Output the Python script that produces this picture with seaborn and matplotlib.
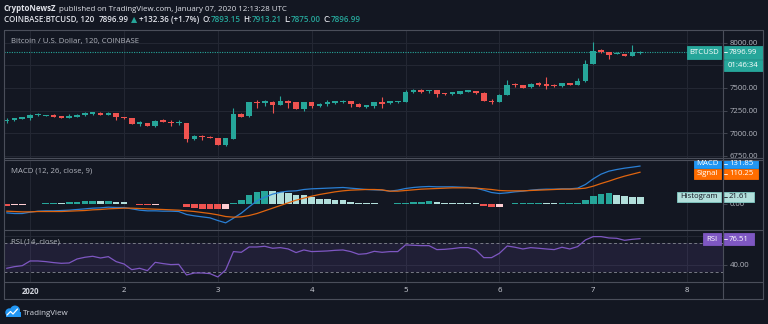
import numpy as np
import pandas as pd
import matplotlib
matplotlib.use("Agg")
import matplotlib.pyplot as plt
import matplotlib.dates as mdates
from matplotlib.patches import Rectangle, Circle
import seaborn as sns

# ---------------- data ----------------
opens = [7132, 7143, 7158, 7165, 7199, 7195, 7202, 7188, 7173, 7180,
         7199, 7210, 7228, 7206, 7224, 7180, 7169, 7099, 7114, 7077,
         7143, 7129, 7114, 7114, 6941, 6974, 6963, 6949, 6871, 6938,
         7210, 7188, 7346, 7331, 7349, 7313, 7357, 7342, 7268, 7342,
         7298, 7324, 7331, 7342, 7357, 7327, 7287, 7305, 7346, 7330,
         7343, 7345, 7455, 7478, 7462, 7474, 7444, 7432, 7436, 7460,
         7468, 7448, 7357, 7350, 7424, 7546, 7532, 7506, 7555, 7544,
         7535, 7518, 7555, 7537, 7573, 7764, 7915, 7893, 7874, 7878,
         7856, 7893.15]
highs = [7169, 7169, 7184, 7210, 7228, 7206, 7210, 7195, 7217, 7213,
         7239, 7239, 7232, 7232, 7228, 7184, 7173, 7136, 7118, 7143,
         7158, 7143, 7143, 7118, 6978, 6978, 6967, 6952, 6949, 7279,
         7224, 7349, 7364, 7371, 7353, 7408, 7364, 7346, 7346, 7346,
         7331, 7364, 7357, 7364, 7360, 7331, 7316, 7346, 7401, 7362,
         7362, 7474, 7488, 7484, 7482, 7478, 7450, 7458, 7472, 7482,
         7472, 7452, 7384, 7432, 7590, 7552, 7536, 7550, 7570, 7617,
         7540, 7560, 7560, 7605, 7805, 8003, 7933, 7895, 7892, 7880,
         7970, 7913.21]
lows = [7114, 7140, 7155, 7143, 7195, 7188, 7180, 7165, 7169, 7176,
        7195, 7206, 7202, 7202, 7151, 7162, 7103, 7085, 7077, 7073,
        7121, 7085, 7096, 6904, 6930, 6923, 6945, 6868, 6857, 6934,
        7180, 7184, 7276, 7298, 7224, 7309, 7276, 7264, 7246, 7279,
        7294, 7298, 7327, 7338, 7294, 7287, 7283, 7279, 7276, 7322,
        7338, 7340, 7445, 7450, 7450, 7405, 7418, 7422, 7432, 7455,
        7430, 7352, 7320, 7346, 7420, 7515, 7498, 7502, 7518, 7490,
        7512, 7514, 7532, 7530, 7568, 7760, 7888, 7820, 7870, 7850,
        7852, 7875.00]
closes = [7151, 7165, 7180, 7206, 7213, 7202, 7184, 7169, 7188, 7206,
          7221, 7232, 7206, 7228, 7176, 7165, 7107, 7121, 7081, 7140,
          7125, 7118, 7121, 6941, 6974, 6960, 6949, 6871, 6945, 7210,
          7184, 7342, 7335, 7353, 7316, 7357, 7335, 7268, 7342, 7305,
          7327, 7342, 7353, 7360, 7320, 7290, 7313, 7342, 7324, 7355,
          7356, 7456, 7478, 7456, 7474, 7430, 7430, 7452, 7468, 7474,
          7446, 7356, 7348, 7428, 7538, 7530, 7502, 7546, 7537, 7518,
          7518, 7555, 7537, 7578, 7768, 7911, 7893, 7867, 7885, 7856,
          7896, 7896.99]
macd = [-32.9, -35.2, -35.2, -30.5, -27.0, -25.8, -25.8, -24.7, -23.5, -21.1,
        -18.8, -16.4, -15.3, -12.9, -14.1, -14.1, -18.8, -23.5, -25.8, -25.8,
        -27.0, -27.0, -28.2, -38.7, -43.4, -47.0, -50.5, -59.9, -68.1, -51.7,
        -34.0, -11.7, 9.4, 22.3, 32.9, 39.9, 43.4, 44.6, 49.3, 51.7,
        52.8, 54.0, 55.2, 56.4, 54.0, 51.7, 49.3, 48.1, 47.0, 43.4,
        47.0, 52.8, 56.4, 58.7, 59.9, 58.7, 58.7, 58.7, 57.5, 56.4,
        54.0, 47.0, 38.7, 35.2, 37.6, 41.1, 43.4, 47.0, 49.3, 50.5,
        50.5, 51.7, 51.7, 54.0, 66.9, 86.9, 103.3, 113.9, 119.7, 124.4,
        128.0, 131.85]
signal = [-27.0, -28.2, -29.4, -29.4, -28.2, -28.2, -28.2, -28.2, -27.0, -25.8,
          -24.7, -22.3, -21.1, -18.8, -17.6, -16.4, -16.4, -17.6, -18.8, -20.0,
          -21.1, -22.3, -23.5, -25.8, -28.2, -31.7, -35.2, -39.9, -45.8, -48.1,
          -47.0, -42.3, -35.2, -25.8, -16.4, -7.0, 2.3, 11.7, 18.8, 25.8,
          31.7, 36.4, 41.1, 44.6, 47.0, 48.1, 49.3, 49.3, 48.1, 43.4,
          43.4, 45.8, 48.1, 50.5, 51.7, 52.8, 54.0, 55.2, 55.2, 55.2,
          54.0, 51.7, 49.3, 45.8, 44.6, 44.6, 44.6, 45.8, 47.0, 48.1,
          49.3, 50.5, 50.5, 51.7, 54.0, 61.0, 70.4, 78.7, 88.0, 96.3,
          103.3, 110.25]
hist = [-9.4, -7.0, -4.7, -2.3, -1.0, 2.0, 2.5, 2.0, 4.7, 7.0,
        9.0, 9.6, 9.2, 9.5, 5.9, 4.7, -1.0, -4.7, -5.0, -3.5,
        -3.4, -2.3, -1.0, -11.7, -16.4, -18.8, -19.2, -21.0, -18.8, 2.3,
        14.0, 29.0, 40.0, 44.6, 43.0, 42.0, 37.6, 29.5, 29.0, 23.5,
        17.6, 16.4, 14.0, 11.7, 7.0, 2.3, 1.0, 0.3, -1.0, -0.5,
        0.5, 3.5, 6.5, 7.0, 7.2, 4.5, 3.0, 1.5, 1.2, 1.0,
        0.5, -8.0, -13.0, -11.0, -1.0, 1.0, 1.2, 2.0, 2.5, 2.0,
        1.0, 1.2, 1.4, 1.6, 12.0, 27.0, 35.0, 36.0, 31.7, 28.0,
        24.6, 21.61]
rsi = [34.8, 37.1, 38.5, 45.1, 45.1, 44.2, 42.8, 41.8, 42.3, 47.9,
       50.3, 51.7, 49.3, 51.2, 44.2, 40.9, 32.9, 34.8, 31.5, 43.2,
       41.4, 40.0, 40.4, 25.4, 28.2, 28.2, 27.3, 22.6, 32.4, 58.3,
       57.3, 64.8, 64.8, 65.8, 63.0, 63.9, 62.0, 56.9, 60.6, 58.3,
       58.7, 59.2, 60.1, 60.6, 58.3, 54.5, 55.4, 58.7, 57.3, 58.3,
       58.3, 67.7, 67.2, 66.7, 66.7, 61.1, 61.5, 62.5, 63.9, 63.9,
       60.6, 49.8, 49.8, 55.9, 66.2, 64.4, 62.0, 63.9, 63.0, 62.0,
       61.1, 64.4, 62.0, 65.3, 74.7, 79.4, 79.4, 77.5, 77.0, 74.2,
       75.6, 76.51]
day_labels = ["2020", "2", "3", "4", "5", "6", "7", "8"]
price_grid = [6750, 7000, 7250, 7500, 7750, 8000]
price_labels = ["6750.00", "7000.00", "7250.00", "7500.00", "", "8000.00"]
macd_ticks = [0]
macd_labels = ["0.00"]
rsi_grid = [40, 80]
rsi_labels = ["40.00", ""]

# ---------------- style ----------------
BG = '#131722'
GRID = '#232733'
BORDER = '#4a4e5a'
TXT = '#b2b5be'
WHITE = '#e1e3ea'
UP = '#26a69a'
DOWN = '#ef5350'

sns.set_theme(style="dark", rc={"axes.facecolor": BG, "figure.facecolor": BG})
plt.rcParams['font.family'] = ['Open Sans', 'DejaVu Sans']

W, H = 768, 324
fig = plt.figure(figsize=(W / 100, H / 100), dpi=100, facecolor=BG)


def rect(x0, y0, x1, y1):
    return [x0 / W, 1 - y1 / H, (x1 - x0) / W, (y1 - y0) / H]


ax_p = fig.add_axes(rect(4, 30, 723, 157.5))
ax_m = fig.add_axes(rect(4, 159.5, 723, 229.5))
ax_r = fig.add_axes(rect(4, 230.5, 723, 282))

times = pd.date_range("2019-12-31 18:00", periods=len(closes), freq="2h")
xs = mdates.date2num(times)
day0 = mdates.date2num(pd.Timestamp("2020-01-01"))
day_ticks = day0 + np.arange(len(day_labels))
ppd = 93.86
xlim = (day0 - 26.1 / ppd, day0 + 692.9 / ppd)
step = 1 / 12

for ax in (ax_p, ax_m, ax_r):
    ax.set_facecolor(BG)
    for s in ax.spines.values():
        s.set_visible(False)
    ax.set_xticks(day_ticks)
    ax.xaxis.grid(True, color=GRID, lw=0.8)
    ax.yaxis.tick_right()
    ax.tick_params(axis='y', colors=BORDER, labelcolor=TXT, length=3, width=0.6,
                   pad=2, labelsize=5.6)
    ax.tick_params(axis='x', length=0, labelbottom=False)

# ---------------- candles ----------------
o = np.array(opens, float)
c = np.array(closes, float)
h = np.array(highs, float)
l = np.array(lows, float)
ccol = np.where(c >= o, UP, DOWN)
bh = np.maximum(np.abs(c - o), 9)
bb = (o + c) / 2 - bh / 2
ax_p.vlines(xs, l, h, colors=ccol, linewidth=0.8, zorder=3)
ax_p.bar(xs, bh, bottom=bb, width=step * 0.72, color=ccol, linewidth=0, zorder=4)
ax_p.axhline(closes[-1], color=UP, ls=(0, (1, 1.2)), lw=0.8, zorder=2)
ax_p.set_yticks(price_grid)
ax_p.set_yticklabels(price_labels)
ax_p.yaxis.grid(True, color=GRID, lw=0.8)
ax_p.set_ylim(6733, 8140)

# ---------------- MACD ----------------
hv = np.array(hist, float)
prev = np.concatenate([[hv[0] + 1], hv[:-1]])
hcol = []
for v, p in zip(hv, prev):
    if v >= 0:
        hcol.append('#26a69a' if v >= p else '#b2dfdb')
    else:
        hcol.append('#ef5350' if v < p else '#ffcdd2')
ax_m.bar(xs, hv, width=step * 0.85, color=hcol, linewidth=0, zorder=2)
sns.lineplot(x=xs, y=macd, ax=ax_m, color='#2a7fd4', linewidth=0.9, zorder=3)
sns.lineplot(x=xs, y=signal, ax=ax_m, color='#e0650f', linewidth=0.9, zorder=3)
ax_m.set_yticks(macd_ticks)
ax_m.set_yticklabels(macd_labels)
ax_m.set_ylim(-91.5, 154.9)

# ---------------- RSI ----------------
ax_r.axhspan(30, 70, color='#7e57c2', alpha=0.13, lw=0, zorder=1)
ax_r.axhline(70, color='#787b86', ls=(0, (3, 2.5)), lw=0.7, zorder=2)
ax_r.axhline(30, color='#787b86', ls=(0, (3, 2.5)), lw=0.7, zorder=2)
sns.lineplot(x=xs, y=rsi, ax=ax_r, color='#7e57c2', linewidth=0.9, zorder=3)
ax_r.set_yticks(rsi_grid)
ax_r.set_yticklabels(rsi_labels)
ax_r.yaxis.grid(True, color=GRID, lw=0.8)
ax_r.set_ylim(15.5, 88.0)
ax_r.tick_params(axis='x', labelbottom=True, labelcolor='#d1d4dc', labelsize=5.6, pad=3.5)
ax_r.set_xticklabels(day_labels)
ax_r.get_xticklabels()[0].set_fontweight('bold')

for ax in (ax_p, ax_m, ax_r):
    ax.set_xlim(*xlim)
    ax.set_xlabel('')
    ax.set_ylabel('')

# ---------------- overlay (frame, header, labels) ----------------
ov = fig.add_axes([0, 0, 1, 1], zorder=20)
ov.set_xlim(0, W)
ov.set_ylim(H, 0)
ov.axis('off')
ov.patch.set_alpha(0)

lw_b = 0.8
ov.plot([4, 763, 763, 4, 4], [29.5, 29.5, 299, 299, 29.5], color=BORDER, lw=lw_b)
ov.plot([723, 723], [29.5, 299], color=BORDER, lw=lw_b)
for yy in (157.5, 159.5, 229.5, 282):
    ov.plot([4, 763], [yy, yy], color=BORDER, lw=lw_b)

r = fig.canvas.get_renderer()


def chain(x, y, parts, size):
    for s, col, wt, gap in parts:
        t = ov.text(x, y, s, color=col, fontsize=size, fontweight=wt,
                    ha='left', va='baseline')
        x += t.get_window_extent(renderer=r).width + gap


chain(4, 11, [("CryptoNewsZ", WHITE, 'bold', 2.4),
              ("published on TradingView.com, January 07, 2020 12:13:28 UTC", WHITE, 'normal', 0)], 5.7)
chain(4, 22, [("COINBASE:BTCUSD, 120", WHITE, 'semibold', 4.5),
              ("7896.99", WHITE, 'semibold', 2.3),
              ("▲", UP, 'normal', 2.3),
              ("+132.36 (+1.7%)", WHITE, 'semibold', 2.3),
              ("O:", WHITE, 'semibold', 0.3), ("7893.15", UP, 'semibold', 2.3),
              ("H:", WHITE, 'semibold', 0.3), ("7913.21", UP, 'semibold', 2.3),
              ("L:", WHITE, 'semibold', 0.3), ("7875.00", UP, 'semibold', 2.3),
              ("C:", WHITE, 'semibold', 0.3), ("7896.99", UP, 'semibold', 0)], 5.8)

ov.text(11, 43.5, "Bitcoin / U.S. Dollar, 120, COINBASE", color=TXT, fontsize=5.6, va='baseline')
ov.text(11, 172.5, "MACD (12, 26, close, 9)", color=TXT, fontsize=5.6, va='baseline')
ov.text(11, 243.5, "RSI (14, close)", color=TXT, fontsize=5.6, va='baseline')


def tag(x0, x1, y0, y1, name, value, fc, tc, ec=None):
    ym = (y0 + y1) / 2
    if name:
        ov.add_patch(Rectangle((x0, y0), 721 - x0, y1 - y0, fc=fc, ec=ec or fc, lw=0.6))
        ov.text((x0 + 721) / 2, ym, name, color=tc, fontsize=5.6, ha='center', va='center')
    ov.add_patch(Rectangle((723.6, y0), x1 - 723.6, y1 - y0, fc=fc, ec=ec or fc, lw=0.6))
    if value.startswith('-'):
        ov.text((723.6 + x1) / 2, ym, value[1:], color=tc, fontsize=5.6, ha='center', va='center')
    else:
        ov.plot([723.6, 727], [ym, ym], color=tc, lw=0.6)
        ov.text(729, ym, value, color=tc, fontsize=5.6, ha='left', va='center')


tag(687, 763, 45.7, 59, "BTCUSD", "7896.99", UP, 'white')
tag(723.6, 763, 60, 71, None, "-01:46:34", UP, 'white')
tag(694, 758, 160, 167.5, "MACD", "131.85", '#2196f3', 'white')
tag(694, 758, 169, 178.5, "Signal", "110.25", '#ff6d00', 'white')
tag(677.3, 754.3, 191.7, 202.3, "Histogram", "21.61", '#b2dfdb', '#131722', ec='#80cbc4')
tag(703.3, 754.3, 233.3, 245, "RSI", "76.51", '#7e57c2', 'white')

# TradingView logo
ov.add_patch(Circle((9.5, 312.5), 4.2, color='#2196f3', lw=0))
ov.add_patch(Circle((15, 310.5), 5, color='#2196f3', lw=0))
ov.add_patch(Rectangle((5.5, 312), 15.5, 4.8, color='#2196f3', lw=0))
ov.plot([7, 10.5, 13, 17.5], [315, 311.5, 314, 309], color='white', lw=0.9)
ov.text(23, 314.6, "TradingView", color='#d1d4dc', fontsize=5.8, va='baseline')

fig.savefig("out.png", dpi=100, facecolor=BG)
